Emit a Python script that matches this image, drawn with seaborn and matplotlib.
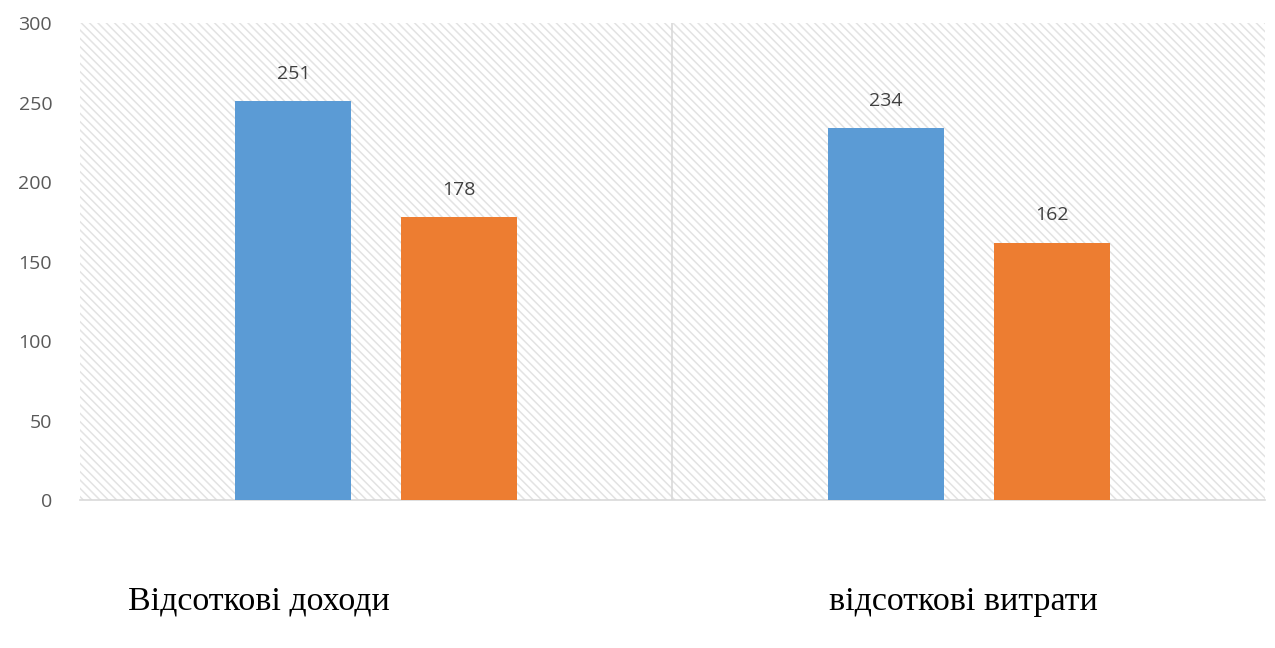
import matplotlib
matplotlib.use("Agg")
import matplotlib.pyplot as plt
import pandas as pd
import seaborn as sns
from matplotlib.patches import Rectangle

# ------------------------------------------------------------
# Data
# ------------------------------------------------------------
categories = ["Відсоткові доходи", "відсоткові витрати"]
series_names = ["Ряд 1", "Ряд 2"]
series_1 = [251, 234]
series_2 = [178, 162]
y_ticks = [0, 50, 100, 150, 200, 250, 300]

COLORS = ["#5B9BD5", "#ED7D31"]

df = pd.DataFrame({
    "category": categories * 2,
    "series": [series_names[0]] * 2 + [series_names[1]] * 2,
    "value": series_1 + series_2,
})

# ------------------------------------------------------------
# Plot
# ------------------------------------------------------------
sns.set_style("white")
plt.rcParams["hatch.linewidth"] = 1.1
plt.rcParams["hatch.color"] = "#e3e3e3"

fig = plt.figure(figsize=(12.75, 6.48), dpi=100)
ax = fig.add_axes([0.0627, 0.228, 0.9295, 0.7365])

# hatched plot area background
bg = Rectangle((0, 0), 1, 1, transform=ax.transAxes, facecolor="white",
               edgecolor="#e3e3e3", hatch="\\" * 4, linewidth=0, zorder=0)
ax.add_patch(bg)

sns.barplot(
    data=df, x="category", y="value", hue="series",
    palette=COLORS, width=0.56, gap=0.3, legend=False,
    saturation=1, linewidth=0, ax=ax, zorder=3,
)

for container in ax.containers:
    ax.bar_label(container, padding=13, fontsize=14, color="#404040",
                 family="Open Sans")

ax.set_xlim(-0.5, 1.5)
ax.set_ylim(0, 300)
ax.set_yticks(y_ticks)
ax.tick_params(axis="y", length=0, pad=20, labelsize=14, labelcolor="#595959")
for lbl in ax.get_yticklabels():
    lbl.set_family("Open Sans")

# divider between categories
ax.axvline(0.5, color="#d9d9d9", linewidth=1.2, zorder=1)

ax.set_xticks([])
ax.set_xlabel("")
ax.set_ylabel("")

for side in ["top", "right", "left"]:
    ax.spines[side].set_visible(False)
ax.spines["bottom"].set_color("#d9d9d9")
ax.spines["bottom"].set_linewidth(1.2)

# category labels, placed well below the plot area
label_x = [0.100, 0.650]
for x, text in zip(label_x, categories):
    fig.text(x, 0.072, text, fontsize=24.5, family="Liberation Serif",
             color="black", ha="left", va="center")

fig.savefig("out.png", dpi=100)
